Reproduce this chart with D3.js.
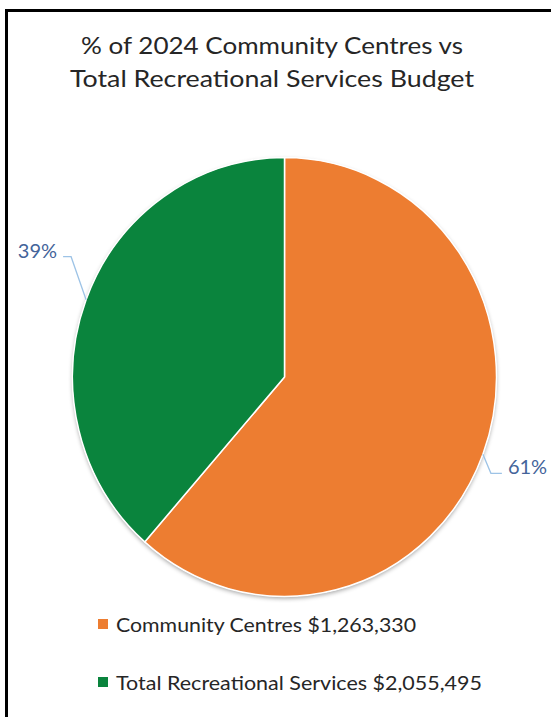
<!DOCTYPE html>
<html>
<head>
<meta charset="utf-8">
<script src="https://cdn.jsdelivr.net/npm/d3@7"></script>
<style>
  html, body { margin: 0; padding: 0; background: #fff; }
  svg { display: block; }
  text { font-family: Lato, "Open Sans", sans-serif; }
</style>
</head>
<body>
<svg id="chart" width="551" height="717"></svg>
<script>
// Budget figures for 2024
const categories = ["Community Centres", "Total Recreational Services"];
const budgets = [1263330, 2055495];
const sliceColors = ["#ED7D31", "#0A843D"];
const titleLines = ["% of 2024 Community Centres vs", "Total Recreational Services Budget"];

const W = 551, H = 717;
const svg = d3.select("#chart");

// frame around the chart area
svg.append("rect")
  .attr("x", 6.5).attr("y", 10.5)
  .attr("width", W + 10).attr("height", H + 10)
  .attr("fill", "#fff")
  .attr("stroke", "#000").attr("stroke-width", 3);

// title, each line stretched to its set width
const titleWidths = [382, 404];
svg.append("g").selectAll("text").data(titleLines).join("text")
  .attr("x", 272)
  .attr("y", (d, i) => 54 + i * 33)
  .attr("text-anchor", "middle")
  .attr("fill", "#262626")
  .attr("textLength", (d, i) => titleWidths[i])
  .attr("lengthAdjust", "spacingAndGlyphs")
  .style("font-size", "24px")
  .text(d => d);

// pie: the community centres share and the remainder of the total budget
const total = budgets[1];
const slices = [
  { name: categories[0], value: budgets[0], color: sliceColors[0] },
  { name: "Other", value: total - budgets[0], color: sliceColors[1] }
];

const cx = 284.5, cy = 377, r = 212, yStretch = 1.035;

const defs = svg.append("defs");
const f = defs.append("filter").attr("id", "shadow")
  .attr("x", "-10%").attr("y", "-10%").attr("width", "120%").attr("height", "120%");
f.append("feDropShadow")
  .attr("dx", 0).attr("dy", 2).attr("stdDeviation", 2.2)
  .attr("flood-color", "#000").attr("flood-opacity", 0.35);

const pie = d3.pie().sort(null).value(d => d.value);
const arc = d3.arc().innerRadius(0).outerRadius(r);
const arcs = pie(slices);

const g = svg.append("g")
  .attr("transform", `translate(${cx},${cy}) scale(1,${yStretch})`);

g.append("circle").attr("r", r).attr("fill", "#fff").attr("filter", "url(#shadow)");

g.selectAll("path.slice").data(arcs).join("path")
  .attr("class", "slice")
  .attr("d", arc)
  .attr("fill", d => d.data.color)
  .attr("stroke", "#fff")
  .attr("stroke-width", 1.5)
  .attr("stroke-linejoin", "round");

// percentage labels with elbow leader lines
const pct = d3.format(".0%");
// elbow offsets from the arc edge, and direction of the label
const labelLayout = [
  { dx: 8, dy: 19, run: 11, side: 1 },
  { dx: -15, dy: -43, run: -8, side: -1 }
];

arcs.forEach((d, i) => {
  const a = (d.startAngle + d.endAngle) / 2;
  const x0 = cx + r * Math.sin(a);
  const y0 = cy - r * Math.cos(a) * yStretch;
  const L = labelLayout[i];
  const x1 = x0 + L.dx, y1 = y0 + L.dy;
  const x2 = x1 + L.run;
  svg.append("path")
    .attr("d", d3.line()([[x0, y0], [x1, y1], [x2, y1]]))
    .attr("fill", "none")
    .attr("stroke", "#9DC3E6")
    .attr("stroke-width", 1.3);
  svg.append("text")
    .attr("x", x2 + L.side * 6)
    .attr("y", y1 + 1)
    .attr("text-anchor", L.side > 0 ? "start" : "end")
    .attr("fill", "#44649A")
    .style("font-size", "20px")
    .text(pct(d.value / total));
});

// legend
const legendWidths = [300, 366];
const legendRows = categories.map((c, i) => ({
  label: `${c} ${d3.format("$,")(budgets[i])}`,
  color: sliceColors[i],
  width: legendWidths[i]
}));
const row = svg.append("g").selectAll("g").data(legendRows).join("g")
  .attr("transform", (d, i) => `translate(98,${619 + i * 58})`);
row.append("rect").attr("width", 10).attr("height", 10).attr("fill", d => d.color);
row.append("text")
  .attr("x", 18).attr("y", 13)
  .attr("fill", "#262626")
  .attr("textLength", d => d.width)
  .attr("lengthAdjust", "spacingAndGlyphs")
  .style("font-size", "20px")
  .text(d => d.label);
</script>
</body>
</html>
